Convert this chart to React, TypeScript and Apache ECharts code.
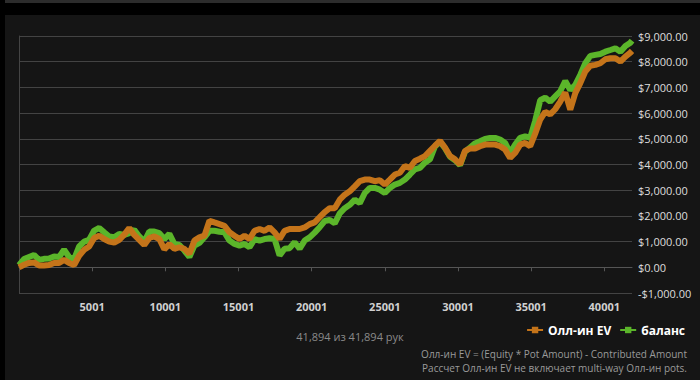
import React, { useEffect, useRef } from "react";
import * as echarts from "echarts";

// hand numbers (x) at which the curves were sampled
const hands = [
  1, 343, 686, 1028, 1371, 1713, 2056, 2398, 2741, 3083,
  3426, 3768, 4111, 4453, 4796, 5138, 5481, 5823, 6166, 6508,
  6851, 7193, 7536, 7878, 8221, 8563, 8906, 9248, 9591, 9933,
  10276, 10618, 10961, 11303, 11646, 11988, 12331, 12673, 13016, 13358,
  13701, 14043, 14386, 14728, 15071, 15413, 15756, 16098, 16441, 16783,
  17126, 17468, 17811, 18153, 18496, 18838, 19181, 19523, 19866, 20208,
  20551, 20893, 21236, 21578, 21921, 22263, 22606, 22948, 23291, 23633,
  23976, 24318, 24661, 25003, 25346, 25688, 26031, 26373, 26716, 27058,
  27401, 27743, 28086, 28428, 28771, 29113, 29456, 29798, 30141, 30483,
  30826, 31168, 31511, 31853, 32196, 32538, 32881, 33223, 33566, 33908,
  34251, 34593, 34936, 35278, 35621, 35963, 36306, 36648, 36991, 37333,
  37676, 38018, 38361, 38703, 39046, 39388, 39731, 40073, 40416, 40758,
  41101, 41443, 41786, 41894,
];

// "Олл-ин EV" curve ($)
const allInEV = [
  0, 100, 170, 190, 70, 70, 90, 170, 170, 290,
  170, 90, 450, 680, 810, 1140, 1230, 1100, 1000, 960,
  1070, 1270, 1530, 1260, 1070, 870, 1140, 1200, 1100, 700,
  900, 720, 780, 720, 525, 1040, 1165, 1230, 1810, 1745,
  1680, 1615, 1360, 1230, 1100, 1230, 1100, 1420, 1490, 1420,
  1550, 1360, 1100, 1420, 1490, 1490, 1490, 1550, 1680, 1750,
  1950, 2150, 2300, 2300, 2630, 2825, 2955, 3150, 3350, 3415,
  3415, 3350, 3390, 3220, 3415, 3610, 3680, 3940, 3870, 4135,
  4225, 4330, 4530, 4730, 4920, 4660, 4330, 4200, 4000, 4530,
  4620, 4620, 4710, 4775, 4775, 4775, 4710, 4580, 4260, 4450,
  4775, 4840, 4710, 5200, 5750, 6050, 5950, 6150, 6450, 6800,
  6130, 6780, 7165, 7620, 7840, 7875, 7940, 8095, 8135, 8135,
  8005, 8200, 8355, 8420,
];

// "баланс" curve ($)
const balance = [
  80, 320, 400, 480, 290, 330, 340, 420, 400, 680,
  400, 320, 810, 1000, 1070, 1430, 1530, 1360, 1200, 1170,
  1300, 1260, 1330, 1460, 1200, 1000, 1390, 1390, 1330, 1100,
  1300, 910, 870, 650, 400, 845, 950, 1165, 1420, 1420,
  1385, 1360, 1040, 910, 845, 910, 780, 1100, 1040, 1100,
  1130, 1100, 460, 720, 745, 975, 720, 1040, 1165, 1350,
  1560, 1800, 1840, 1710, 2100, 2300, 2430, 2630, 2500, 2890,
  3090, 3090, 3020, 2890, 3090, 3220, 3285, 3415, 3610, 3810,
  3870, 4070, 4200, 4700, 4890, 4630, 4300, 4170, 3970, 4500,
  4660, 4820, 4905, 4995, 5035, 5035, 4970, 4840, 4450, 4775,
  5035, 5100, 5035, 5700, 6500, 6600, 6450, 6650, 6850, 7250,
  6900, 7100, 7490, 7940, 8225, 8265, 8300, 8390, 8455, 8520,
  8390, 8610, 8740, 8820,
];

const seriesNames = ["Олл-ин EV", "баланс"];
const seriesColors = ["#c4741a", "#5bb52a"];
const totalHands = 41894;
const countText = "41,894 из 41,894 рук";
const note1 = "Олл-ин EV = (Equity * Pot Amount) - Contributed Amount";
const note2 = "Рассчет Олл-ин EV не включает multi-way Олл-ин pots.";

const FONT = "'Open Sans', 'Noto Sans', sans-serif";

function money(v: number): string {
  const s = Math.abs(v).toLocaleString("en-US", {
    minimumFractionDigits: 2,
    maximumFractionDigits: 2,
  });
  return (v < 0 ? "-$" : "$") + s;
}

export default function App() {
  const ref = useRef<HTMLDivElement>(null);
  useEffect(() => {
    if (!ref.current) return;
    const chart = echarts.init(ref.current, null, { renderer: "svg" });
    const evData = hands.map((h, i) => [h - 1, allInEV[i]]);
    const balData = hands.map((h, i) => [h - 1, balance[i]]);
    chart.setOption({
      animation: false,
      backgroundColor: "#000000",
      textStyle: { fontFamily: FONT },
      graphic: [
        { type: "rect", z: -10, shape: { x: 5, y: 0, width: 695, height: 3 }, style: { fill: "#2c2c2c" } },
        { type: "rect", z: -10, shape: { x: 5, y: 15, width: 695, height: 365 }, style: { fill: "#151515" } },
        {
          type: "text", left: "center", top: 331,
          style: { text: countText, fill: "#8a8a8a", fontSize: 11, fontFamily: FONT },
        },
        {
          type: "text", right: 13, top: 349,
          style: { text: note1, fill: "#9a9a9a", fontSize: 10, fontFamily: FONT, align: "right" },
        },
        {
          type: "text", right: 13, top: 363,
          style: { text: note2, fill: "#9a9a9a", fontSize: 10, fontFamily: FONT, align: "right" },
        },
      ],
      legend: {
        data: seriesNames,
        right: 10,
        top: 319,
        itemWidth: 16,
        itemHeight: 8,
        itemGap: 8,
        textStyle: { color: "#ffffff", fontWeight: "bold", fontSize: 12, fontFamily: FONT },
      },
      grid: { left: 19, right: 68, top: 36, bottom: 87 },
      xAxis: {
        type: "value",
        min: 0,
        max: totalHands - 1,
        interval: 5000,
        axisLine: { show: true, lineStyle: { color: "#555555" } },
        axisTick: { show: true, length: 4, lineStyle: { color: "#555555" } },
        splitLine: { show: false },
        axisLabel: {
          color: "#d0d0d0",
          fontSize: 11,
          fontWeight: "bold",
          fontFamily: FONT,
          margin: 8,
          showMaxLabel: false,
          formatter: (v: number) => (v === 0 ? "" : String(v + 1)),
        },
      },
      yAxis: {
        type: "value",
        position: "right",
        min: -1000,
        max: 9000,
        interval: 1000,
        axisLine: { show: true, lineStyle: { color: "#444444" } },
        axisTick: { show: true, length: 4, lineStyle: { color: "#444444" } },
        splitLine: { show: true, lineStyle: { color: "#434343", width: 1 } },
        axisLabel: {
          color: "#dddddd",
          fontSize: 11,
          fontFamily: FONT,
          margin: 6,
          formatter: (v: number) => money(v),
        },
      },
      series: [
        {
          name: seriesNames[0],
          type: "line",
          data: evData,
          z: 3,
          color: seriesColors[0],
          showSymbol: false,
          symbol: "rect",
          symbolSize: 6,
          lineStyle: { width: 6, color: seriesColors[0] },
        },
        {
          name: seriesNames[1],
          type: "line",
          data: balData,
          z: 2,
          color: seriesColors[1],
          showSymbol: false,
          symbol: "rect",
          symbolSize: 6,
          lineStyle: { width: 6, color: seriesColors[1] },
        },
      ],
    });
    return () => chart.dispose();
  }, []);
  return (
    <div
      ref={ref}
      style={{ position: "fixed", left: 0, top: 0, width: 700, height: 380 }}
    />
  );
}
